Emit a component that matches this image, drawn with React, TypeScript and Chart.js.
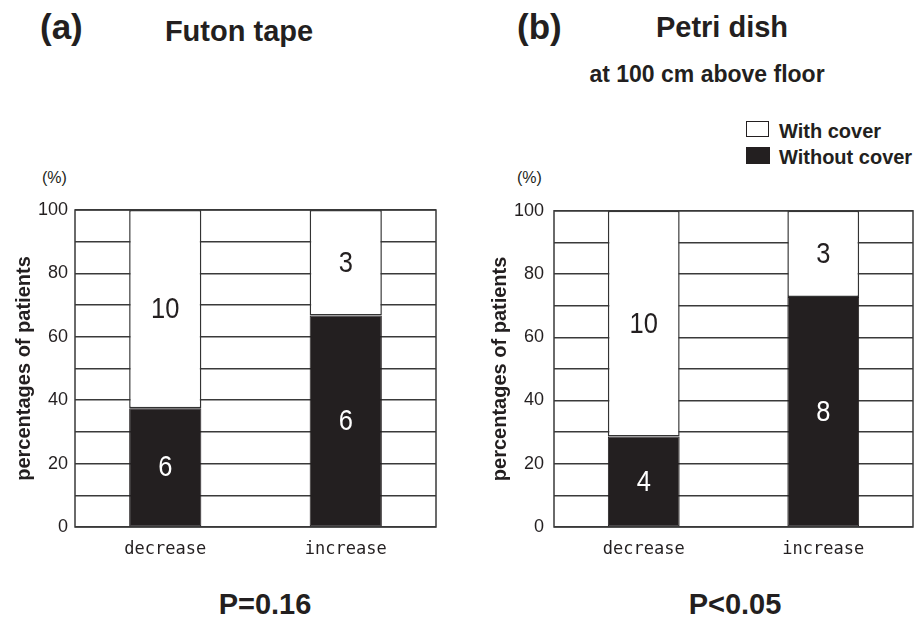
import React, { useEffect, useRef } from 'react';
import { Chart, registerables } from 'chart.js';

Chart.register(...registerables);

// ---- data ----
const categories = ['decrease', 'increase'];
const yTickLabels = [0, 20, 40, 60, 80, 100];
const seriesNames = ['Without cover', 'With cover'];

const futonWithoutPct = [37.5, 66.7];
const futonWithPct = [62.5, 33.3];
const futonWithoutN = [6, 6];
const futonWithN = [10, 3];

const petriWithoutPct = [28.6, 72.7];
const petriWithPct = [71.4, 27.3];
const petriWithoutN = [4, 8];
const petriWithN = [10, 3];

const INK = '#231f20';
const GRID = '#3a3a3a';
const SANS = "'Liberation Sans', Arial, Helvetica, sans-serif";
const MONO = "'DejaVu Sans Mono', 'Liberation Mono', monospace";

const countLabels = {
  id: 'countLabels',
  afterDatasetsDraw(chart: any) {
    const ctx = chart.ctx;
    chart.data.datasets.forEach((ds: any, i: number) => {
      const meta = chart.getDatasetMeta(i);
      meta.data.forEach((el: any, j: number) => {
        const p = el.getProps(['x', 'y', 'base'], true);
        ctx.save();
        ctx.translate(p.x, (p.y + p.base) / 2 + 1);
        ctx.scale(0.85, 1);
        ctx.font = `30px ${SANS}`;
        ctx.textAlign = 'center';
        ctx.textBaseline = 'middle';
        ctx.fillStyle = ds.labelColor;
        ctx.fillText(String(ds.counts[j]), 0, 0);
        ctx.restore();
      });
    });
  },
};

const frame = {
  id: 'frame',
  afterDraw(chart: any) {
    const { left, top, right, bottom } = chart.chartArea;
    const ctx = chart.ctx;
    ctx.save();
    ctx.strokeStyle = GRID;
    ctx.lineWidth = 1.5;
    ctx.strokeRect(left, top, right - left, bottom - top);
    ctx.restore();
  },
};

type PanelProps = {
  left: number;
  top: number;
  width: number;
  height: number;
  padRight: number;
  yWidth: number;
  titlePad: number;
  tickPad: number;
  without: number[];
  withC: number[];
  withoutN: number[];
  withN: number[];
};

function Panel(props: PanelProps) {
  const ref = useRef<HTMLCanvasElement | null>(null);
  useEffect(() => {
    if (!ref.current) return;
    const chart = new Chart(ref.current, {
      type: 'bar',
      data: {
        labels: categories,
        datasets: [
          {
            label: seriesNames[0],
            data: props.without,
            backgroundColor: INK,
            borderColor: INK,
            borderWidth: 1,
            borderSkipped: false,
            categoryPercentage: 1,
            barPercentage: 0.4,
            counts: props.withoutN,
            labelColor: '#ffffff',
          } as any,
          {
            label: seriesNames[1],
            data: props.withC,
            backgroundColor: '#ffffff',
            borderColor: '#333333',
            borderWidth: 1.5,
            borderSkipped: false,
            categoryPercentage: 1,
            barPercentage: 0.4,
            counts: props.withN,
            labelColor: INK,
          } as any,
        ],
      },
      options: {
        responsive: false,
        animation: false,
        layout: { padding: { top: 20, right: props.padRight, left: 0, bottom: 0 } },
        plugins: {
          legend: { display: false },
          tooltip: { enabled: false },
        },
        scales: {
          x: {
            stacked: true,
            grid: { display: false, drawTicks: false },
            border: { display: false },
            ticks: {
              color: INK,
              font: { family: MONO, size: 17 },
              padding: 12,
            },
            afterFit: (s: any) => {
              s.height = 43;
            },
          },
          y: {
            stacked: true,
            min: 0,
            max: 100,
            grid: { color: GRID, lineWidth: 1.5, drawTicks: false },
            border: { display: false },
            ticks: {
              stepSize: 10,
              color: INK,
              padding: props.tickPad,
              font: { family: SANS, size: 18 },
              callback: (v: any) => (yTickLabels.includes(Number(v)) ? String(v) : ''),
            },
            title: {
              display: true,
              text: 'percentages of patients',
              color: INK,
              font: { family: SANS, size: 20, weight: 'bold' },
              padding: { top: props.titlePad, bottom: 0 },
            },
            afterFit: (s: any) => {
              s.width = props.yWidth;
            },
          },
        },
      },
      plugins: [countLabels, frame],
    } as any);
    return () => chart.destroy();
  }, []);
  return (
    <canvas
      ref={ref}
      width={props.width}
      height={props.height}
      style={{
        position: 'absolute',
        left: props.left,
        top: props.top,
        width: props.width,
        height: props.height,
      }}
    />
  );
}

function Txt(p: {
  x: number;
  baseline: number;
  size: number;
  text: string;
  center?: boolean;
  weight?: string;
  family?: string;
}) {
  return (
    <div
      style={{
        position: 'absolute',
        left: p.x,
        top: p.baseline - 0.8465 * p.size,
        fontSize: p.size,
        lineHeight: `${p.size}px`,
        fontFamily: p.family || SANS,
        fontWeight: (p.weight || 'bold') as any,
        color: INK,
        whiteSpace: 'nowrap',
        transform: p.center ? 'translateX(-50%)' : undefined,
      }}
    >
      {p.text}
    </div>
  );
}

export default function App() {
  useEffect(() => {
    document.body.style.margin = '0';
  }, []);
  return (
    <div
      style={{
        position: 'absolute',
        left: 0,
        top: 0,
        width: 921,
        height: 619,
        background: '#ffffff',
        overflow: 'hidden',
      }}
    >
      <Txt x={40} baseline={39} size={35} text="(a)" />
      <Txt x={239} baseline={42} size={29} text="Futon tape" center />
      <Txt x={517} baseline={39} size={35} text="(b)" />
      <Txt x={722} baseline={38} size={29} text="Petri dish" center />
      <Txt x={707} baseline={82} size={23} text="at 100 cm above floor" center />

      {/* legend */}
      <div
        style={{
          position: 'absolute',
          left: 746,
          top: 121,
          width: 21,
          height: 14,
          border: `1.5px solid ${INK}`,
          background: '#fff',
        }}
      />
      <Txt x={779} baseline={138} size={20} text={seriesNames[1]} />
      <div
        style={{
          position: 'absolute',
          left: 746,
          top: 147,
          width: 24,
          height: 17,
          background: INK,
        }}
      />
      <Txt x={779} baseline={164} size={20} text={seriesNames[0]} />

      <Txt x={42} baseline={184} size={16} text="(%)" weight="normal" />
      <Txt x={517} baseline={184} size={16} text="(%)" weight="normal" />

      <Panel
        left={0}
        top={190}
        width={460}
        height={380}
        padRight={24}
        yWidth={75}
        titlePad={12}
        tickPad={7}
        without={futonWithoutPct}
        withC={futonWithPct}
        withoutN={futonWithoutN}
        withN={futonWithN}
      />
      <Panel
        left={480}
        top={190}
        width={441}
        height={380}
        padRight={8}
        yWidth={74}
        titlePad={8}
        tickPad={10}
        without={petriWithoutPct}
        withC={petriWithPct}
        withoutN={petriWithoutN}
        withN={petriWithN}
      />

      <Txt x={265} baseline={615} size={29} text="P=0.16" center />
      <Txt x={735} baseline={615} size={29} text="P<0.05" center />
    </div>
  );
}
